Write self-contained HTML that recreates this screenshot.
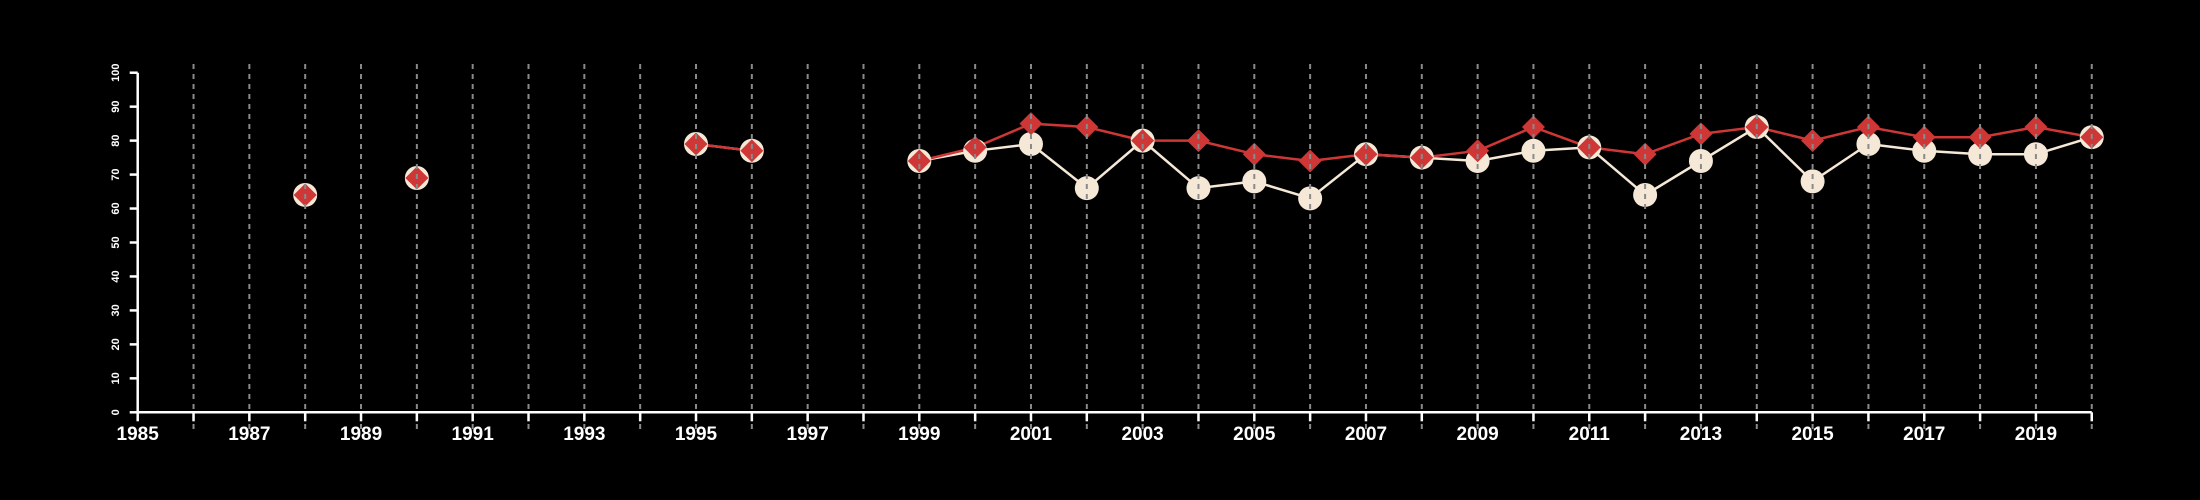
<!DOCTYPE html>
<html><head><meta charset="utf-8"><style>
html,body{margin:0;padding:0;background:#000;}
svg{display:block;}
text{font-family:"Liberation Sans",sans-serif;fill:#fff;font-weight:bold;}
</style></head><body>
<svg id="chart" width="2200" height="500" viewBox="0 0 2200 500" xmlns="http://www.w3.org/2000/svg">
<rect width="2200" height="500" fill="#000"/>
<g id="series"></g>
<g id="grid"></g>
<g id="axes"></g>
</svg>
<script>
const years = [1988,1990,1995,1996,1999,2000,2001,2002,2003,2004,2005,2006,2007,2008,2009,2010,2011,2012,2013,2014,2015,2016,2017,2018,2019,2020];
const seriesA = [64,69,79,77,74,77,79,66,80,66,68,63,76,75,74,77,78,64,74,84,68,79,77,76,76,81];
const seriesB = [64,69,79,77,74,78,85,84,80,80,76,74,76,75,77,84,78,76,82,84,80,84,81,81,84,81];
const yTicks = [0,10,20,30,40,50,60,70,80,90,100];
const xLabels = [1985,1987,1989,1991,1993,1995,1997,1999,2001,2003,2005,2007,2009,2011,2013,2015,2017,2019];

const NS = "http://www.w3.org/2000/svg";
const X0 = 137.7, XW = 55.83, Y0 = 412.3, YH = 339.6;
const xs = y => X0 + (y - 1985) * XW;
const ys = v => Y0 - v / 100 * YH;
function mk(tag, attrs, parent){const e=document.createElementNS(NS,tag);for(const k in attrs)e.setAttribute(k,attrs[k]);parent.appendChild(e);return e;}

const S = document.getElementById('series'), G = document.getElementById('grid'), A = document.getElementById('axes');

function drawLines(vals, color, name){
  for(let i=1;i<years.length;i++){
    if(years[i]-years[i-1]!==1) continue;
    const l = mk('line',{x1:xs(years[i-1]),y1:ys(vals[i-1]),x2:xs(years[i]),y2:ys(vals[i]),stroke:color,'stroke-width':2.5},S);
    
    
  }
}
drawLines(seriesA,'#f6e8d6','series-a');
drawLines(seriesB,'#cf3636','series-b');
years.forEach((y,i)=>{
  const c = mk('circle',{cx:xs(y),cy:ys(seriesA[i]),r:12,fill:'#f6e8d6'},S);
  
  
});
years.forEach((y,i)=>{
  const cx=xs(y), cy=ys(seriesB[i]), r=11.5;
  const p = mk('polygon',{points:`${cx},${cy-r} ${cx+r},${cy} ${cx},${cy+r} ${cx-r},${cy}`,fill:'#cf3636'},S);
  
  
});
for(let y=1986;y<=2020;y++){
  const l = mk('line',{x1:xs(y),x2:xs(y),y1:64,y2:430,stroke:'#8a8a8a','stroke-width':2,'stroke-dasharray':'5,5'},G);
  
  
}
// axes
const xa = mk('line',{x1:X0,x2:xs(2020),y1:Y0,y2:Y0,stroke:'#fff','stroke-width':2.5},A);


for(let y=1985;y<=2020;y++){
  const t = mk('line',{x1:xs(y),x2:xs(y),y1:Y0,y2:Y0+9,stroke:'#fff','stroke-width':2.5},A);
  
  
}
xLabels.forEach(y=>{
  const t = mk('text',{x:xs(y),y:440,'text-anchor':'middle','font-size':19},A);
  t.textContent = y;
  
  
});
const ya = mk('line',{x1:X0,x2:X0,y1:ys(100),y2:Y0,stroke:'#fff','stroke-width':2.5},A);


yTicks.forEach(v=>{
  const t = mk('line',{x1:X0-8,x2:X0,y1:ys(v),y2:ys(v),stroke:'#fff','stroke-width':2.5},A);
  
  
  const tx = mk('text',{x:0,y:0,'text-anchor':'middle','font-size':11,transform:`translate(119,${ys(v)}) rotate(-90)`},A);
  tx.textContent = v;
  
  
});
</script>
</body></html>
